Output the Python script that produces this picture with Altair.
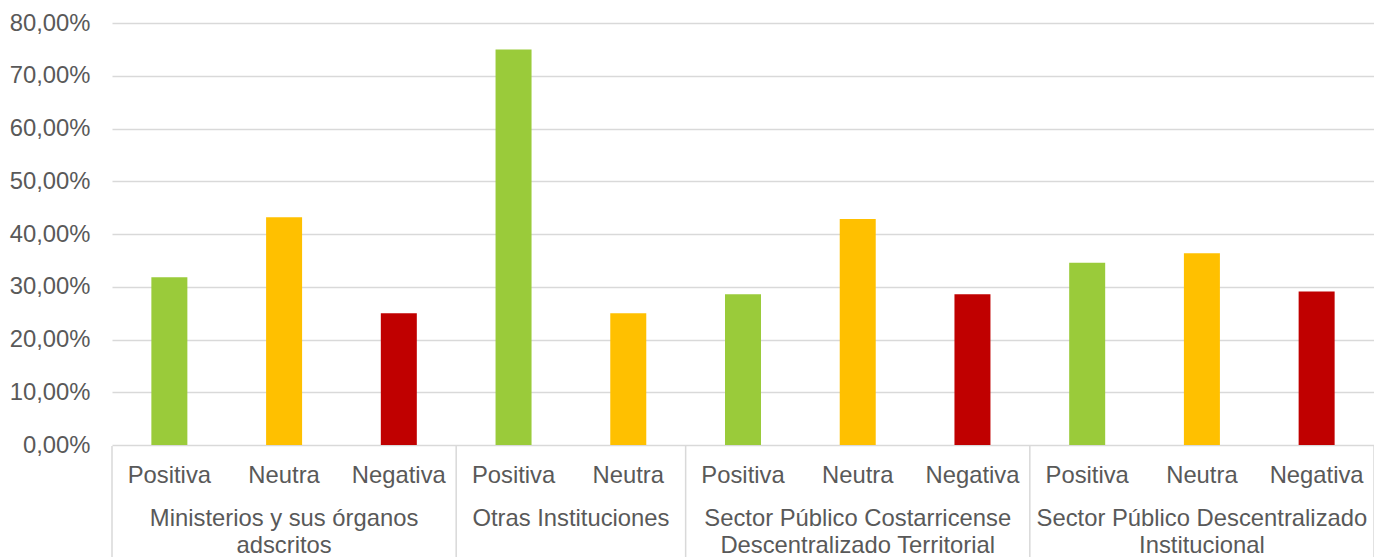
import altair as alt
import pandas as pd

groups = [
    "Ministerios y sus órganos\nadscritos",
    "Otras Instituciones",
    "Sector Público Costarricense\nDescentralizado Territorial",
    "Sector Público Descentralizado\nInstitucional",
]
group_of = [0, 0, 0, 1, 1, 2, 2, 2, 3, 3, 3]
sentiments = ["Positiva", "Neutra", "Negativa", "Positiva", "Neutra",
              "Positiva", "Neutra", "Negativa", "Positiva", "Neutra", "Negativa"]
values = [31.82, 43.18, 25.00, 75.00, 25.00, 28.57, 42.86, 28.57, 34.55, 36.36, 29.09]
y_ticks = [0, 10, 20, 30, 40, 50, 60, 70, 80]

colors = {"Positiva": "#9ACB3A", "Neutra": "#FFC000", "Negativa": "#C00000"}

bars = pd.DataFrame({
    "slot": [i + 0.5 for i in range(len(values))],
    "sent": sentiments,
    "val": values,
    "grp": group_of,
})

gstart, gend = [], []
pos = 0
for g in range(len(groups)):
    n = group_of.count(g)
    gstart.append(pos)
    gend.append(pos + n)
    pos += n
grp_df = pd.DataFrame({"label": groups, "start": gstart, "end": gend,
                       "mid": [(a + b) / 2 for a, b in zip(gstart, gend)]})
sep_df = pd.DataFrame({"b": sorted(set(gstart + gend))})

W, H = 1262, 422
TXT = "#595959"
GRID = "#D9D9D9"
FONT = "Liberation Sans"
FS = 23.8

xs = alt.Scale(domain=[0, len(values)], nice=False, zero=False, padding=0)
ys = alt.Scale(domain=[0, 80], nice=False)

bar_layer = alt.Chart(bars).mark_bar(size=36).encode(
    x=alt.X("slot:Q", scale=xs,
            axis=alt.Axis(labels=False, ticks=False, grid=False, title=None,
                          domainColor=GRID, domainWidth=1.5)),
    y=alt.Y("val:Q", scale=ys,
            axis=alt.Axis(values=y_ticks, title=None, domain=False, ticks=False,
                          tickSize=0, labelPadding=22, gridColor=GRID, gridWidth=1.5,
                          labelFont=FONT, labelFontSize=FS, labelColor=TXT,
                          labelExpr="replace(format(datum.value, '.2f'), '.', ',') + '%'")),
    color=alt.Color("sent:N", scale=alt.Scale(domain=list(colors.keys()),
                                             range=list(colors.values())), legend=None),
)

sub_labels = alt.Chart(bars).mark_text(font=FONT, fontSize=FS, color=TXT,
                                       baseline="alphabetic", align="center").encode(
    x=alt.X("slot:Q", scale=xs, axis=None),
    y=alt.value(H + 38),
    text="sent:N",
)

grp_labels = alt.Chart(grp_df).mark_text(font=FONT, fontSize=FS, color=TXT,
                                         baseline="alphabetic", align="center",
                                         lineBreak="\n", lineHeight=26.5).encode(
    x=alt.X("mid:Q", scale=xs, axis=None),
    y=alt.value(H + 81),
    text="label:N",
)

seps = alt.Chart(sep_df).mark_rule(color=GRID, strokeWidth=1.5).encode(
    x=alt.X("b:Q", scale=xs, axis=None),
    y=alt.value(H + 1),
    y2=alt.value(H + 130),
)

chart = alt.layer(bar_layer, seps, sub_labels, grp_labels).properties(
    width=W, height=H,
    autosize=alt.AutoSizeParams(type="none"),
    padding={"left": 104, "top": 15, "right": 0, "bottom": 112},
).configure(background="white").configure_view(strokeWidth=0, stroke="transparent").configure_axisX(grid=False)

chart.save("out.html", embed_options={"renderer": "svg", "actions": False})
